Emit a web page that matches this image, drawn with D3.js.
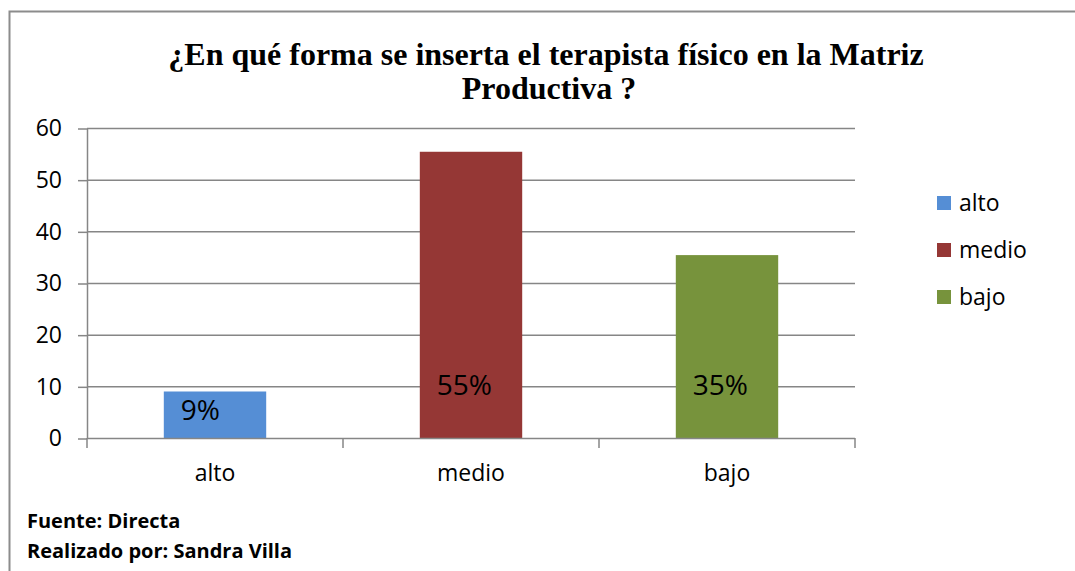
<html>
<script src="https://d3js.org/d3.v7.min.js"></script>
<style>
body { margin: 0; background: white; }
text { font-family: "Open Sans", sans-serif; fill: black; }
.axis path, .axis line { stroke: #868686; }
</style>
<body>
<svg width="1075" height="571"></svg>
<script>
var categories = ['alto', 'medio', 'bajo'];
var values = [9, 55.4, 35.4];
var labels = ['9%', '55%', '35%'];
var colors = ['#558ED5', '#953735', '#77933C'];
var yTicks = [0, 10, 20, 30, 40, 50, 60];

var svg = d3.select('svg');

// marco
svg.append('path')
  .attr('d', 'M9.5,571 V11.5 H1075')
  .attr('fill', 'none')
  .attr('stroke', '#8c8c8c')
  .attr('stroke-width', 2);

// titulo
var title = svg.append('text')
  .attr('text-anchor', 'middle')
  .style('font-family', '"Liberation Serif", "Times New Roman", serif')
  .style('font-weight', 'bold')
  .style('font-size', '32px');
title.append('tspan').attr('x', 546).attr('y', 65).text('¿En qué forma se inserta el terapista físico en la Matriz');
title.append('tspan').attr('x', 549).attr('y', 99).text('Productiva ?');

var plotLeft = 87, plotRight = 855, plotTop = 128, plotBottom = 438;

var x = d3.scaleBand()
  .domain(categories)
  .range([plotLeft, plotRight])
  .paddingInner(0.6)
  .paddingOuter(0.3);

var y = d3.scaleLinear()
  .domain([0, 60])
  .range([plotBottom, plotTop]);

// grid
svg.append('g')
  .selectAll('line')
  .data(yTicks.slice(1))
  .enter()
  .append('line')
  .attr('x1', plotLeft).attr('x2', plotRight)
  .attr('y1', function(d) { return y(d) + 0.5; })
  .attr('y2', function(d) { return y(d) + 0.5; })
  .attr('stroke', '#868686')
  .attr('stroke-width', 1.5);

// barras
svg.append('g')
  .selectAll('rect')
  .data(values)
  .enter()
  .append('rect')
  .attr('x', function(d, i) { return x(categories[i]); })
  .attr('y', function(d) { return y(d); })
  .attr('width', x.bandwidth())
  .attr('height', function(d) { return y(0) - y(d); })
  .attr('fill', function(d, i) { return colors[i]; });

// eje y
var yAxis = svg.append('g')
  .attr('class', 'axis')
  .attr('transform', 'translate(' + plotLeft + ',0.5)')
  .call(d3.axisLeft(y).tickValues(yTicks).tickSize(9).tickPadding(16).tickSizeOuter(0));
yAxis.selectAll('path, line').attr('stroke-width', 1.5);
yAxis.selectAll('text')
  .style('font-size', '23px')
  .style('font-family', '"Open Sans", sans-serif')
  .attr('fill', 'black');

// eje x
var xEdges = d3.range(categories.length + 1).map(function(i) { return plotLeft + i * x.step(); });
var xAxis = svg.append('g').attr('class', 'axis');
xAxis.append('line')
  .attr('x1', plotLeft).attr('x2', plotRight)
  .attr('y1', plotBottom + 0.5).attr('y2', plotBottom + 0.5)
  .attr('stroke', '#868686').attr('stroke-width', 1.5);
xAxis.selectAll('.tick')
  .data(xEdges)
  .enter()
  .append('line')
  .attr('x1', function(d) { return d; }).attr('x2', function(d) { return d; })
  .attr('y1', plotBottom).attr('y2', plotBottom + 10)
  .attr('stroke', '#868686').attr('stroke-width', 1.5);
xAxis.selectAll('text')
  .data(categories)
  .enter()
  .append('text')
  .attr('x', function(d) { return x(d) + x.bandwidth() / 2; })
  .attr('y', 481)
  .attr('text-anchor', 'middle')
  .style('font-size', '23px')
  .text(function(d) { return d; });

// etiquetas de datos
svg.append('g')
  .selectAll('text')
  .data(labels)
  .enter()
  .append('text')
  .attr('x', function(d, i) { return x(categories[i]) + 17; })
  .attr('y', function(d, i) { return Math.max(y(10) + 9, y(values[i]) + 28); })
  .style('font-size', '28px')
  .text(function(d) { return d; });

// leyenda
var legend = svg.append('g')
  .selectAll('g')
  .data(categories)
  .enter()
  .append('g')
  .attr('transform', function(d, i) { return 'translate(937,' + (196 + i * 47) + ')'; });
legend.append('rect')
  .attr('width', 14).attr('height', 14)
  .attr('fill', function(d, i) { return colors[i]; });
legend.append('text')
  .attr('x', 22).attr('y', 15)
  .style('font-size', '23px')
  .text(function(d) { return d; });

// fuente
svg.append('text')
  .attr('x', 27).attr('y', 528)
  .style('font-size', '20px').style('font-weight', 'bold')
  .text('Fuente: Directa');
svg.append('text')
  .attr('x', 27).attr('y', 558)
  .style('font-size', '20px').style('font-weight', 'bold')
  .text('Realizado por: Sandra Villa');
</script>
</body>
</html>
